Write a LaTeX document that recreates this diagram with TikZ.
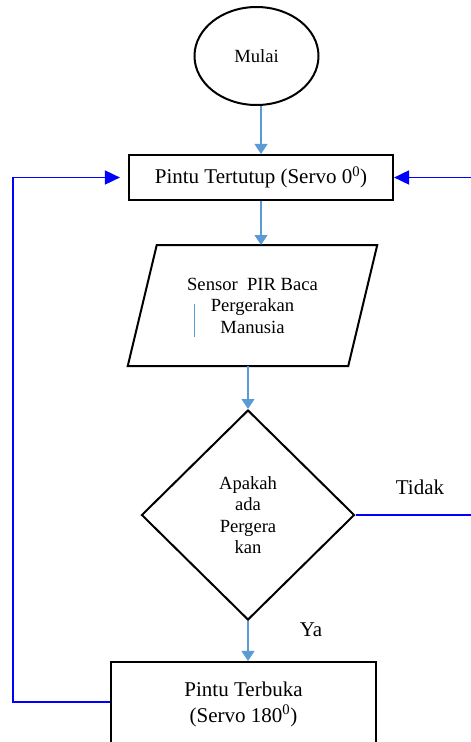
\documentclass[tikz,border=0pt]{standalone}
\usepackage{fontspec}
\setmainfont{Liberation Serif}
\usetikzlibrary{shapes.geometric,arrows.meta}
\definecolor{alur}{RGB}{91,155,213}
\definecolor{balik}{RGB}{0,0,255}
\begin{document}
\begin{tikzpicture}[x=1pt,y=-1pt,
    kotak/.style={draw,line width=2.2pt,inner sep=0pt,align=center,font=\fontsize{21}{26}\selectfont},
    bentuk/.style={draw,line width=2pt,inner sep=0pt,align=center,font=\fontsize{18.6}{21.5}\selectfont},
    alir/.style={alur,line width=1.2pt,-{Triangle[length=10pt,width=13pt]}},
    ulang/.style={balik,line width=1.8pt,-{Triangle[length=15pt,width=14pt]}},
    ket/.style={font=\fontsize{21}{26}\selectfont}]
      \useasboundingbox (0,0) rectangle (471,742);
      \clip (0,0) rectangle (471,742);
      \node [bentuk,ellipse,minimum width=124pt,minimum height=98pt] (mulai) at (256.5,56) {Mulai};
      \node [kotak,minimum width=264pt,minimum height=45pt] (tutup) at (261,177.5) {Pintu Tertutup (Servo 0\textsuperscript{0})};
      \node [bentuk,draw=none,minimum width=218.5pt,minimum height=119pt] (sensor) at (252.5,305.5) {Sensor \ PIR Baca\\Pergerakan\\Manusia};
      \draw [line width=2pt] ([xshift=14.5pt]sensor.north west) -- ([xshift=14.5pt]sensor.north east)
            -- ([xshift=-14.5pt]sensor.south east) -- ([xshift=-14.5pt]sensor.south west) -- cycle;
      \node [bentuk,diamond,minimum width=213pt,minimum height=210pt] (cek) at (248,515) {Apakah\\ada\\Pergera\\kan};
      \node [kotak,minimum width=265pt,minimum height=84pt] (buka) at (243.5,704) {Pintu Terbuka\\(Servo 180\textsuperscript{0})};
      \node [ket] (tidak) at (420,487) {Tidak};
      \node [ket] (ya) at (311,630) {Ya};
      \coordinate (kanan) at (480,515);
      \coordinate (kiri) at (13,702);
      \draw [alir] (tutup.north |- mulai.south) -- (tutup.north);
      \draw [alir] (tutup.south) -- (tutup.south |- sensor.north);
      \draw [alir] (sensor.south -| cek.north) -- (cek.north);
      \draw [alir] (cek.south) -- (cek.south |- buka.north);
      \draw [ulang] (cek.east) -- (kanan) |- (tutup.east);
      \draw [ulang] (buka.west |- kiri) -- (kiri) |- ([xshift=-8pt]tutup.west);
      \draw [alur,line width=1pt] (194,304) -- (194,337);
\end{tikzpicture}
\end{document}
